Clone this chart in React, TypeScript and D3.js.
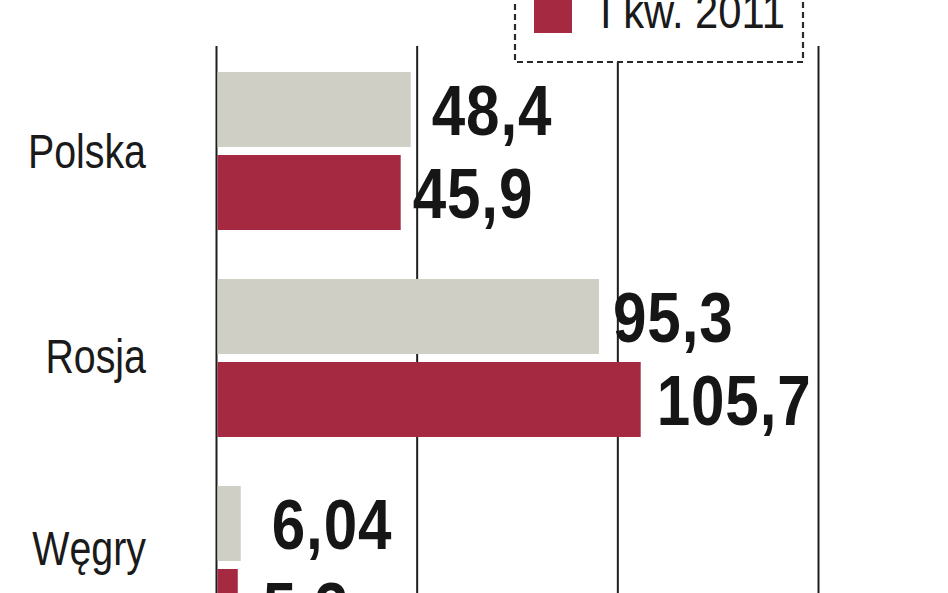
import React from "react";
import * as d3 from "d3";

const categories = ["Polska", "Rosja", "Węgry"];
const seriesNames = ["I kw. 2010", "I kw. 2011"];
const values2010 = [48.4, 95.3, 6.04];
const values2011 = [45.9, 105.7, 5.3];
const valueLabels2010 = ["48,4", "95,3", "6,04"];
const valueLabels2011 = ["45,9", "105,7", "5,3"];
const gridTicks = [0, 50, 100, 150];

// layout nudges (not data)
const labelDx2010 = [21, 14, 31];
const labelDx2011 = [12, 16, 25];
const catDy = [0, -2, -17];

const W = 948;
const H = 593;
const colors = ["#cfcfc6", "#a52a41"];
const font = "'Liberation Sans', Arial, sans-serif";

export default function App() {
  const x = d3.scaleLinear().domain([0, 150]).range([216.5, 818.5]);
  const step = 207;
  const pad = 49 / step;
  const y0 = d3
    .scaleBand<string>()
    .domain(categories)
    .range([72 - step * pad / 2, 72 - step * pad / 2 + step * categories.length])
    .paddingInner(pad)
    .paddingOuter(pad / 2);
  const y1 = d3
    .scaleBand<string>()
    .domain(seriesNames)
    .range([0, y0.bandwidth()])
    .paddingInner(2 - y0.bandwidth() / 83)
    .paddingOuter(0);

  const series = [
    { name: seriesNames[0], values: values2010, labels: valueLabels2010, dx: labelDx2010 },
    { name: seriesNames[1], values: values2011, labels: valueLabels2011, dx: labelDx2011 },
  ];

  return (
    <svg
      width={W}
      height={H}
      style={{ position: "absolute", left: 0, top: 0, background: "#fff" }}
    >
      {/* gridlines */}
      {gridTicks.map((t) => (
        <line
          key={t}
          x1={x(t)}
          x2={x(t)}
          y1={46}
          y2={H + 10}
          stroke="#1e1e1e"
          strokeWidth={2}
        />
      ))}

      {/* bars */}
      {series.map((s, si) =>
        categories.map((c, ci) => {
          const by = (y0(c) ?? 0) + (y1(s.name) ?? 0);
          return (
            <g key={`${si}-${ci}`}>
              <rect
                x={x(0) + 1}
                y={by}
                width={x(s.values[ci]) - x(0) - 1}
                height={y1.bandwidth()}
                fill={colors[si]}
              />
              <text
                transform={`translate(${x(s.values[ci]) + s.dx[ci]},${by + y1.bandwidth() / 2 + 25}) scale(0.86,1)`}
                fontFamily={font}
                fontWeight="bold"
                fontSize={70}
                letterSpacing={1}
                fill="#161616"
              >
                {s.labels[ci]}
              </text>
            </g>
          );
        })
      )}

      {/* category labels */}
      {categories.map((c, ci) => (
        <text
          key={c}
          transform={`translate(146,${(y0(c) ?? 0) + y0.bandwidth() / 2 + 17 + catDy[ci]}) scale(0.82,1)`}
          textAnchor="end"
          fontFamily={font}
          fontSize={48}
          fill="#1a1a1a"
        >
          {c}
        </text>
      ))}

      {/* legend */}
      <g>
        <rect
          x={515}
          y={-120}
          width={288}
          height={182}
          fill="#fff"
          stroke="#2a2a2a"
          strokeWidth={2.2}
          strokeDasharray="6,4"
        />
        {seriesNames.map((n, i) => {
          const ly = 33 - (seriesNames.length - 1 - i) * 60;
          return (
            <g key={n}>
              <rect x={534} y={ly - 38} width={38} height={38} fill={colors[i]} />
              <text
                transform={`translate(600,${ly - 5}) scale(0.87,1)`}
                fontFamily={font}
                fontSize={48}
                fill="#1a1a1a"
              >
                {n}
              </text>
            </g>
          );
        })}
      </g>
    </svg>
  );
}
